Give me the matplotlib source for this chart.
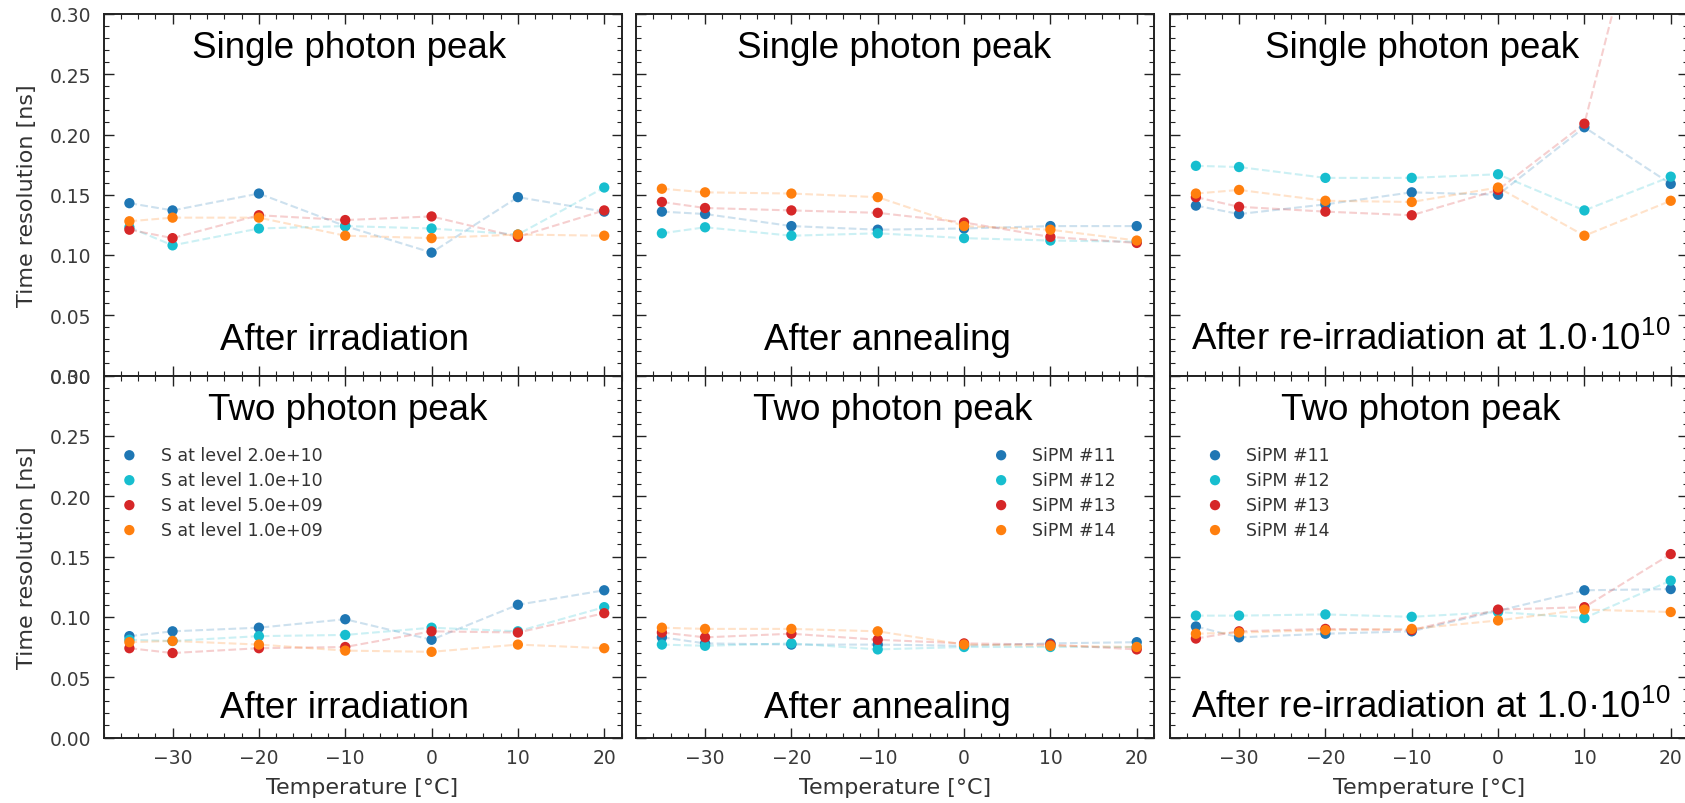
import matplotlib
matplotlib.use('Agg')
import matplotlib.pyplot as plt
from matplotlib.ticker import MultipleLocator

plt.rcParams['mathtext.fontset'] = 'custom'
plt.rcParams['mathtext.rm'] = 'Liberation Sans'

temps = [-35, -30, -20, -10, 0, 10, 20]
colors = ['#1f77b4', '#17becf', '#d62728', '#ff7f0e']
irr_labels = ['S at level 2.0e+10', 'S at level 1.0e+10',
              'S at level 5.0e+09', 'S at level 1.0e+09']
sipm_labels = ['SiPM #11', 'SiPM #12', 'SiPM #13', 'SiPM #14']

# time resolution [ns], single photon peak
sp_irr_11 = [0.143, 0.137, 0.151, 0.124, 0.102, 0.148, 0.136]
sp_irr_12 = [0.123, 0.108, 0.122, 0.124, 0.122, 0.117, 0.156]
sp_irr_13 = [0.121, 0.114, 0.133, 0.129, 0.132, 0.115, 0.137]
sp_irr_14 = [0.128, 0.131, 0.131, 0.116, 0.114, 0.117, 0.116]

sp_ann_11 = [0.136, 0.134, 0.124, 0.121, 0.122, 0.124, 0.124]
sp_ann_12 = [0.118, 0.123, 0.116, 0.118, 0.114, 0.112, 0.111]
sp_ann_13 = [0.144, 0.139, 0.137, 0.135, 0.127, 0.115, 0.110]
sp_ann_14 = [0.155, 0.152, 0.151, 0.148, 0.124, 0.121, 0.112]

sp_reirr_11 = [0.141, 0.134, 0.142, 0.152, 0.150, 0.206, 0.159]
sp_reirr_12 = [0.174, 0.173, 0.164, 0.164, 0.167, 0.137, 0.165]
sp_reirr_13 = [0.148, 0.140, 0.136, 0.133, 0.154, 0.209, 0.490]
sp_reirr_14 = [0.151, 0.154, 0.145, 0.144, 0.156, 0.116, 0.145]

# time resolution [ns], two photon peak
tp_irr_11 = [0.084, 0.088, 0.091, 0.098, 0.081, 0.110, 0.122]
tp_irr_12 = [0.081, 0.080, 0.084, 0.085, 0.091, 0.088, 0.108]
tp_irr_13 = [0.074, 0.070, 0.074, 0.075, 0.088, 0.087, 0.103]
tp_irr_14 = [0.079, 0.080, 0.077, 0.072, 0.071, 0.077, 0.074]

tp_ann_11 = [0.083, 0.078, 0.077, 0.077, 0.076, 0.078, 0.079]
tp_ann_12 = [0.077, 0.076, 0.078, 0.073, 0.075, 0.075, 0.075]
tp_ann_13 = [0.087, 0.083, 0.086, 0.081, 0.078, 0.077, 0.073]
tp_ann_14 = [0.091, 0.090, 0.090, 0.088, 0.077, 0.076, 0.075]

tp_reirr_11 = [0.092, 0.083, 0.086, 0.088, 0.105, 0.122, 0.123]
tp_reirr_12 = [0.101, 0.101, 0.102, 0.100, 0.104, 0.099, 0.130]
tp_reirr_13 = [0.082, 0.088, 0.090, 0.089, 0.106, 0.108, 0.152]
tp_reirr_14 = [0.086, 0.087, 0.089, 0.090, 0.097, 0.106, 0.104]

panels = [
    # (row, col, series, top text, bottom text, legend labels)
    (0, 0, [sp_irr_11, sp_irr_12, sp_irr_13, sp_irr_14],
     'Single photon peak', 'After irradiation', irr_labels),
    (0, 1, [sp_ann_11, sp_ann_12, sp_ann_13, sp_ann_14],
     'Single photon peak', 'After annealing', sipm_labels),
    (0, 2, [sp_reirr_11, sp_reirr_12, sp_reirr_13, sp_reirr_14],
     'Single photon peak', 'After re-irradiation at 1.0·10$^{10}$', sipm_labels),
    (1, 0, [tp_irr_11, tp_irr_12, tp_irr_13, tp_irr_14],
     'Two photon peak', 'After irradiation', irr_labels),
    (1, 1, [tp_ann_11, tp_ann_12, tp_ann_13, tp_ann_14],
     'Two photon peak', 'After annealing', sipm_labels),
    (1, 2, [tp_reirr_11, tp_reirr_12, tp_reirr_13, tp_reirr_14],
     'Two photon peak', 'After re-irradiation at 1.0·10$^{10}$', sipm_labels),
]

fig = plt.figure(figsize=(16.85, 8.04), dpi=100)

# panel placement in figure pixels (the right column runs past the edge)
W, H = 1685, 804
col_x = [103.5, 636, 1170]
row_y = [(15, 376.5), (376.5, 738.5)]
panel_w = 518

top_text_x = [[0.475, 0.498, 0.486], [0.472, 0.495, 0.484]]
bot_text_x = [0.466, 0.486, 0.504]
bot_text_y = [[0.072, 0.072, 0.072], [0.056, 0.056, 0.056]]
legend_anchor = [(0.003, 0.825), (0.658, 0.825), (0.04, 0.825)]

for row, col, series, top_txt, bot_txt, labels in panels:
    y_top, y_bot = row_y[row]
    ax = fig.add_axes([col_x[col] / W, (H - y_bot) / H,
                       panel_w / W, (y_bot - y_top) / H])

    for vals, c, lab in zip(series, colors, labels):
        ax.plot(temps, vals, '--', color=c, alpha=0.22, lw=1.5)
        ax.scatter(temps, vals, color=c, s=55, zorder=3, label=lab,
                   edgecolors='none')

    ax.set_xlim(-38, 22)
    ax.set_ylim(0, 0.30)
    ax.xaxis.set_major_locator(MultipleLocator(10))
    ax.xaxis.set_minor_locator(MultipleLocator(2))
    ax.yaxis.set_major_locator(MultipleLocator(0.05))
    ax.yaxis.set_minor_locator(MultipleLocator(0.01))
    ax.tick_params(which='both', direction='in', top=True, right=True,
                   colors='#222222', labelcolor='#3a3a3a', labelsize=13.5)
    ax.tick_params(which='major', length=7, width=1)
    ax.tick_params(which='minor', length=3.5, width=0.8)
    ax.tick_params(axis='x', pad=7.5)
    ax.tick_params(axis='y', pad=9)
    for sp in ax.spines.values():
        sp.set_linewidth(1.4)
        sp.set_color('#222222')

    if col == 0:
        ax.yaxis.set_major_formatter(matplotlib.ticker.FormatStrFormatter('%.2f'))
        ax.set_ylabel('Time resolution [ns]', fontsize=16, color='#333333')
        ax.yaxis.set_label_coords(-0.128, 0.5)
    else:
        ax.tick_params(labelleft=False)

    if row == 1:
        ax.set_xlabel('Temperature [°C]', fontsize=16, color='#333333')
        ax.xaxis.set_label_coords(0.5, -0.108)
    else:
        ax.tick_params(labelbottom=False)

    ax.text(top_text_x[row][col], 0.88, top_txt, transform=ax.transAxes,
            ha='center', va='baseline', fontsize=26.5,
            family='Liberation Sans', color='black')
    ax.text(bot_text_x[col], bot_text_y[row][col], bot_txt,
            transform=ax.transAxes, ha='center', va='baseline',
            fontsize=26.5, family='Liberation Sans', color='black')

    if row == 1:
        leg = ax.legend(loc='upper left', bbox_to_anchor=legend_anchor[col],
                        borderaxespad=0, frameon=False, fontsize=12.5,
                        labelspacing=0.4, scatterpoints=1, handletextpad=0.8)
        for t in leg.get_texts():
            t.set_color('#333333')

fig.savefig('out.png', dpi=100)
